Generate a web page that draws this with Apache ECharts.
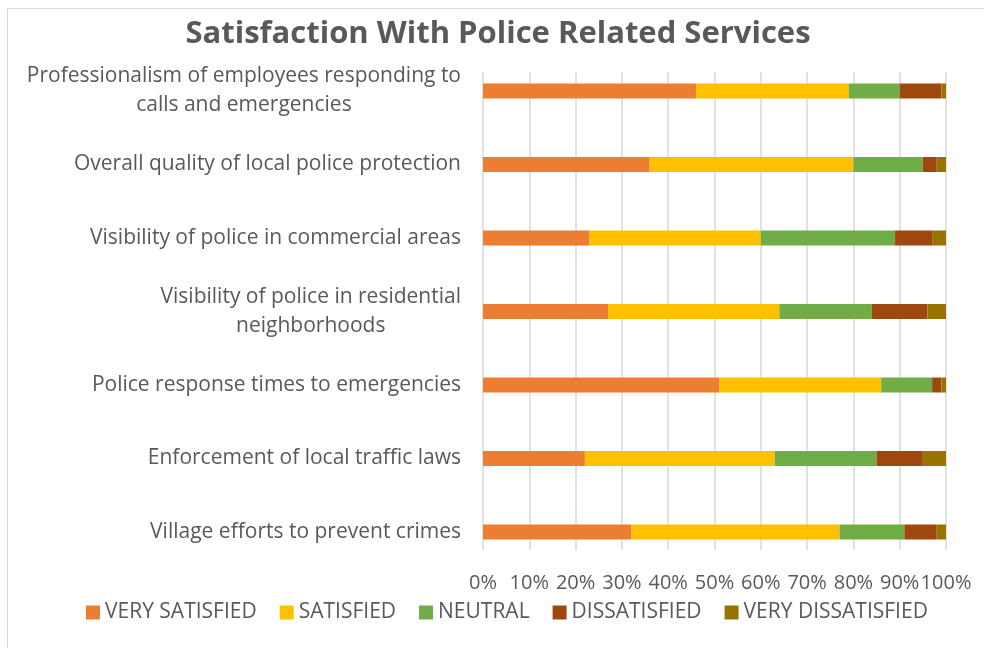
<!DOCTYPE html>
<html>
<head>
<meta charset="utf-8">
<style>
  html, body { margin: 0; padding: 0; background: #ffffff; }
  #chart { width: 984px; height: 648px; }
</style>
<script src="https://cdn.jsdelivr.net/npm/echarts/dist/echarts.min.js"></script>
</head>
<body>
<div id="chart"></div>
<script>
// Survey items, top to bottom (line breaks where the label wraps)
const categories = [
  'Professionalism of employees responding to\ncalls and emergencies',
  'Overall quality of local police protection',
  'Visibility of police in commercial areas',
  'Visibility of police in residential\nneighborhoods',
  'Police response times to emergencies',
  'Enforcement of local traffic laws',
  'Village efforts to prevent crimes'
];

// Share of respondents (%) per answer
const verySatisfied    = [46, 36, 23, 27, 51, 22, 32];
const satisfied        = [33, 44, 37, 37, 35, 41, 45];
const neutral          = [11, 15, 29, 20, 11, 22, 14];
const dissatisfied     = [ 9,  3,  8, 12,  2, 10,  7];
const veryDissatisfied = [ 1,  2,  3,  4,  1,  5,  2];

const seriesNames = ['VERY SATISFIED', 'SATISFIED', 'NEUTRAL', 'DISSATISFIED', 'VERY DISSATISFIED'];
const seriesData = [verySatisfied, satisfied, neutral, dissatisfied, veryDissatisfied];
const seriesColors = ['#ED7D31', '#FFC000', '#70AD47', '#9E480E', '#997300'];

const FONT = '"Open Sans", "Noto Sans", sans-serif';
const TEXT = '#595959';
const LABEL_SIZE = 21;

const chart = echarts.init(document.getElementById('chart'), null, { renderer: 'canvas' });

chart.setOption({
  backgroundColor: '#ffffff',
  animation: false,
  textStyle: { fontFamily: FONT },
  graphic: [{
    type: 'rect',
    shape: { x: 7.5, y: 8.5, width: 1000, height: 700 },
    style: { fill: 'none', stroke: '#d9d9d9', lineWidth: 1 },
    silent: true
  }],
  title: {
    text: 'Satisfaction With Police Related Services',
    left: 493,
    textAlign: 'center',
    top: 14,
    textStyle: { fontFamily: FONT, fontSize: 31, fontWeight: 'bold', color: TEXT }
  },
  legend: {
    data: seriesNames,
    left: 81,
    top: 597,
    itemWidth: 14,
    itemHeight: 14,
    itemGap: 23,
    icon: 'rect',
    textStyle: { fontFamily: FONT, fontSize: LABEL_SIZE, color: TEXT }
  },
  grid: [
    // percentage scale and vertical gridlines
    { left: 483, right: 38, top: 72, bottom: 98 },
    // bars and item labels
    { left: 483, right: 38, top: 91, bottom: 116 }
  ],
  xAxis: [
    {
      gridIndex: 0,
      type: 'value',
      min: 0, max: 100, interval: 10,
      axisLine: { show: false },
      axisTick: { show: false },
      splitLine: { show: true, lineStyle: { color: '#d9d9d9', width: 1.5 } },
      axisLabel: {
        formatter: '{value}%',
        margin: 23,
        showMinLabel: true,
        showMaxLabel: true,
        hideOverlap: false,
        color: TEXT,
        fontFamily: FONT,
        fontSize: 20
      }
    },
    {
      gridIndex: 1,
      type: 'value',
      min: 0, max: 100,
      show: false
    }
  ],
  yAxis: [
    {
      gridIndex: 0,
      type: 'value',
      show: false
    },
    {
      gridIndex: 1,
      type: 'category',
      data: categories,
      inverse: true,
      boundaryGap: false,
      axisLine: { show: false },
      axisTick: { show: false },
      splitLine: { show: false },
      axisLabel: {
        margin: 22,
        color: TEXT,
        fontFamily: FONT,
        fontSize: LABEL_SIZE,
        lineHeight: 29,
        formatter: function (v) {
          return v.split('\n').map(function (line) { return '{c|' + line + '}'; }).join('\n');
        },
        rich: {
          c: { align: 'center', color: TEXT, fontFamily: FONT, fontSize: LABEL_SIZE, lineHeight: 29 }
        }
      }
    }
  ],
  series: seriesNames.map(function (name, i) {
    return {
      name: name,
      type: 'bar',
      stack: 'total',
      xAxisIndex: 1,
      yAxisIndex: 1,
      barWidth: 15,
      data: seriesData[i],
      itemStyle: { color: seriesColors[i] },
      emphasis: { disabled: true }
    };
  })
});
</script>
</body>
</html>
